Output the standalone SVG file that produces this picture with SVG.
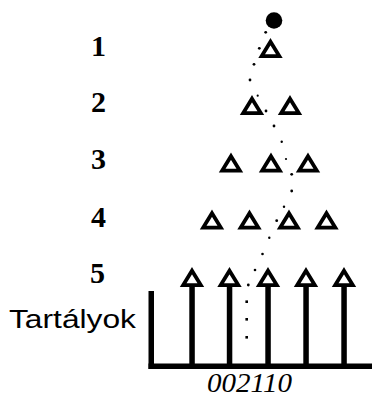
<svg xmlns="http://www.w3.org/2000/svg" xmlns:xlink="http://www.w3.org/1999/xlink" width="372" height="398" viewBox="0 0 372 398">
  <style>
    .row { font-family: "Liberation Serif", "Times New Roman", serif; font-weight: bold; font-size: 30px; fill: #000; }
    .bins-label { font-family: "Liberation Sans", Arial, sans-serif; font-size: 25px; fill: #000; }
    .result { font-family: "Liberation Serif", "Times New Roman", serif; font-style: italic; font-size: 28px; fill: #000; }
    .peg { fill: #fff; stroke: #000; stroke-width: 3.8; stroke-linejoin: miter; }
    .wall { fill: #000; }
    .trail circle, .trail rect { fill: #000; }
  </style>
  <defs>
    <!-- a single peg: outlined triangle centred on its own origin -->
    <g id="peg-shape">
      <polygon class="peg" points="0,-6.8 8.8,7.6 -8.8,7.6"/>
    </g>
  </defs>

  <rect width="372" height="398" fill="#fff"/>

  <!-- row numbers -->
  <g id="row-labels">
    <text class="row" x="91" y="56">1</text>
    <text class="row" x="91" y="112">2</text>
    <text class="row" x="91" y="169">3</text>
    <text class="row" x="91" y="227">4</text>
    <text class="row" x="90" y="283">5</text>
  </g>

  <!-- falling ball -->
  <g id="ball">
    <circle cx="274" cy="20.5" r="8.3" fill="#000"/>
  </g>

  <!-- pegs, one row per level -->
  <g id="pegs-row1">
    <use xlink:href="#peg-shape" x="270.5" y="48.5"/>
  </g>
  <g id="pegs-row2">
    <use xlink:href="#peg-shape" x="252" y="105.5"/>
    <use xlink:href="#peg-shape" x="290" y="105.5"/>
  </g>
  <g id="pegs-row3">
    <use xlink:href="#peg-shape" x="231" y="163"/>
    <use xlink:href="#peg-shape" x="271" y="163"/>
    <use xlink:href="#peg-shape" x="308" y="163"/>
  </g>
  <g id="pegs-row4">
    <use xlink:href="#peg-shape" x="212" y="220"/>
    <use xlink:href="#peg-shape" x="249.5" y="220"/>
    <use xlink:href="#peg-shape" x="289" y="220"/>
    <use xlink:href="#peg-shape" x="326.5" y="220"/>
  </g>
  <g id="pegs-row5">
    <use xlink:href="#peg-shape" x="192" y="277.5"/>
    <use xlink:href="#peg-shape" x="229.5" y="277.5"/>
    <use xlink:href="#peg-shape" x="268" y="277.5"/>
    <use xlink:href="#peg-shape" x="306" y="277.5"/>
    <use xlink:href="#peg-shape" x="344" y="277.5"/>
  </g>

  <!-- collecting bins -->
  <g id="bins">
    <rect class="wall" x="148.5" y="291" width="5.5" height="78"/>
    <rect class="wall" x="148.5" y="363.5" width="223.5" height="5.5"/>
    <rect class="wall" x="189.3" y="287" width="5.5" height="79"/>
    <rect class="wall" x="226.8" y="287" width="5.5" height="79"/>
    <rect class="wall" x="265.3" y="287" width="5.5" height="79"/>
    <rect class="wall" x="303.3" y="287" width="5.5" height="79"/>
    <rect class="wall" x="341.3" y="287" width="5.5" height="79"/>
  </g>

  <g id="bins-label">
    <text class="bins-label" x="9" y="328" textLength="127" lengthAdjust="spacingAndGlyphs">Tartályok</text>
  </g>

  <g id="result">
    <text class="result" x="207" y="392" textLength="85" lengthAdjust="spacingAndGlyphs">002110</text>
  </g>

  <!-- dotted trail of the ball -->
  <g id="connectors" class="trail">
    <circle cx="265.7" cy="32.3" r="1.4"/>
    <circle cx="259.3" cy="48.3" r="1.4"/>
    <circle cx="254" cy="64.3" r="1.4"/>
    <circle cx="250" cy="80" r="1.4"/>
    <circle cx="257.7" cy="95.7" r="1.1"/>
    <circle cx="266" cy="111" r="1.4"/>
    <circle cx="274" cy="126" r="1.4"/>
    <circle cx="281.7" cy="141.7" r="1.2"/>
    <circle cx="286" cy="159" r="1.1"/>
    <circle cx="291.7" cy="174.3" r="1.4"/>
    <circle cx="291.7" cy="191" r="1.4"/>
    <circle cx="284" cy="206.7" r="1.2"/>
    <circle cx="276.7" cy="220.7" r="1.4"/>
    <circle cx="269.3" cy="237.7" r="1.2"/>
    <circle cx="262.5" cy="254" r="1.3"/>
    <circle cx="255" cy="270" r="1.3"/>
    <circle cx="248.3" cy="285" r="1.4"/>
    <rect x="245.4" y="300.4" width="2.6" height="2.6"/>
    <rect x="245.4" y="318" width="2.6" height="2.6"/>
    <rect x="245.4" y="336" width="2.6" height="2.6"/>
  </g>
</svg>
